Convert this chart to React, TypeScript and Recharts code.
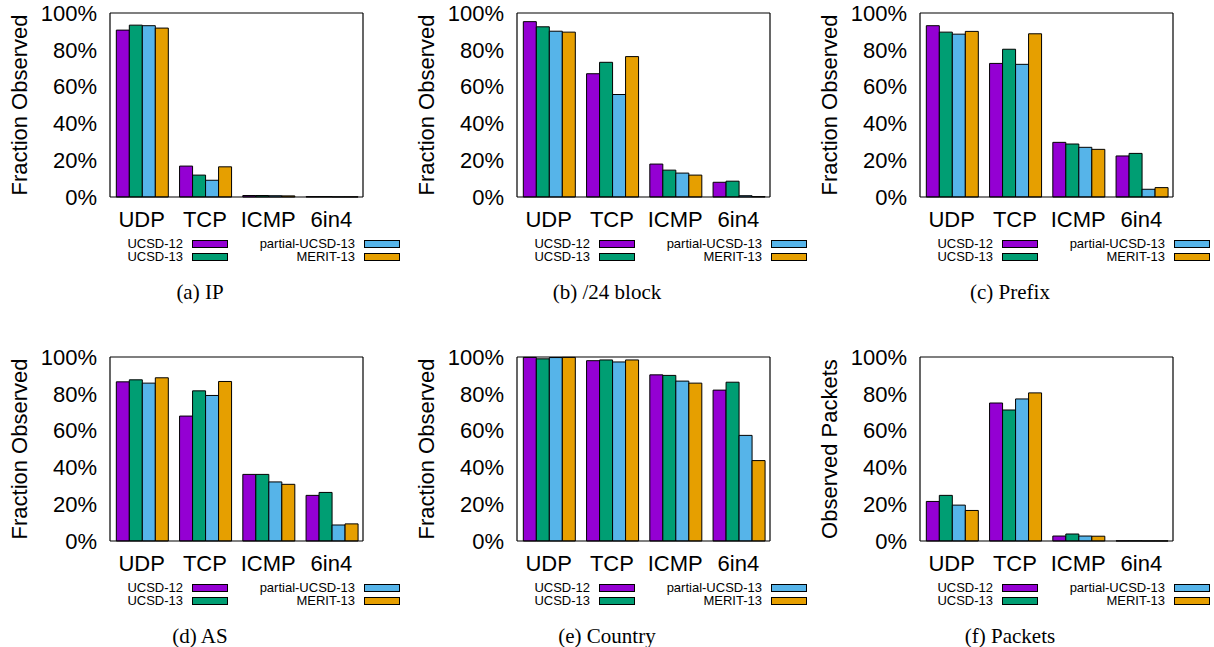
import { Bar, BarChart, Label, XAxis, YAxis } from "recharts";

const categories = ["UDP", "TCP", "ICMP", "6in4"];
const seriesNames = ["UCSD-12", "UCSD-13", "partial-UCSD-13", "MERIT-13"];
const seriesColors = ["#9400d3", "#009e73", "#56b4e9", "#e69f00"];
const yTicks = [0, 20, 40, 60, 80, 100];

// rows = series (UCSD-12, UCSD-13, partial-UCSD-13, MERIT-13), cols = categories
const ipValues = [
  [90.7, 16.8, 0.8, 0.2],
  [93.4, 11.9, 0.8, 0.2],
  [93.1, 9.1, 0.7, 0.1],
  [91.8, 16.4, 0.6, 0.1],
];
const blockValues = [
  [95.3, 67.0, 17.9, 8.0],
  [92.5, 73.2, 14.6, 8.6],
  [90.1, 55.7, 13.0, 0.7],
  [89.6, 76.3, 11.9, 0.2],
];
const prefixValues = [
  [93.1, 72.6, 29.7, 22.3],
  [89.6, 80.3, 28.8, 23.7],
  [88.5, 72.1, 27.0, 4.2],
  [90.0, 88.7, 25.9, 5.1],
];
const asValues = [
  [86.5, 67.9, 36.2, 24.8],
  [87.6, 81.6, 36.2, 26.4],
  [85.8, 79.1, 32.1, 8.7],
  [88.7, 86.7, 30.8, 9.3],
];
const countryValues = [
  [99.8, 98.0, 90.3, 82.0],
  [99.0, 98.4, 90.0, 86.3],
  [99.7, 97.3, 86.9, 57.4],
  [99.8, 98.4, 85.8, 43.7],
];
const packetValues = [
  [21.5, 75.0, 2.7, 0.1],
  [24.8, 71.2, 3.8, 0.1],
  [19.5, 77.2, 2.7, 0.05],
  [16.6, 80.5, 2.6, 0.05],
];

const SANS = "'Liberation Sans', Arial, Helvetica, sans-serif";
const SERIF = "'Liberation Serif', 'Times New Roman', serif";

interface PanelProps {
  left: number;
  top: number;
  values: number[][];
  yLabel: string;
  caption: string;
}

const LegendItem = ({ name, color, right, y }: { name: string; color: string; right: number; y: number }) => (
  <>
    <div
      style={{
        position: "absolute",
        left: right - 160,
        width: 151,
        top: y - 8,
        fontSize: 13,
        lineHeight: "16px",
        textAlign: "right",
        fontFamily: SANS,
      }}
    >
      {name}
    </div>
    <div
      style={{
        position: "absolute",
        left: right,
        top: y - 4,
        width: 34,
        height: 6,
        background: color,
        border: "1px solid #000",
      }}
    />
  </>
);

const Panel = ({ left, top, values, yLabel, caption }: PanelProps) => {
  const data = categories.map((cat, i) => ({
    cat,
    s0: values[0][i],
    s1: values[1][i],
    s2: values[2][i],
    s3: values[3][i],
  }));
  return (
    <div style={{ position: "absolute", left, top, width: 400, height: 310 }}>
      <BarChart
        width={400}
        height={237}
        data={data}
        margin={{ top: 13, right: 37, left: 0, bottom: 0 }}
        barCategoryGap="10%"
        barGap={0}
        style={{ fontFamily: SANS }}
      >
        <XAxis
          dataKey="cat"
          height={40}
          tickSize={0}
          tickMargin={14}
          axisLine={{ stroke: "#000", strokeWidth: 1.2 }}
          tick={{ fill: "#000", fontSize: 22 }}
          interval={0}
        />
        <XAxis
          xAxisId="top"
          dataKey="cat"
          orientation="top"
          height={1}
          mirror
          tick={false}
          tickSize={4}
          tickLine={{ stroke: "#000" }}
          axisLine={{ stroke: "#000", strokeWidth: 1.2 }}
        />
        <YAxis
          type="number"
          domain={[0, 100]}
          ticks={yTicks}
          width={110}
          tickSize={0}
          tickMargin={13}
          tickFormatter={(v: number) => `${v}%`}
          axisLine={{ stroke: "#000", strokeWidth: 1.2 }}
          tick={{ fill: "#000", fontSize: 22 }}
        >
          <Label
            content={({ viewBox }: any) => {
              const cy = viewBox.y + viewBox.height / 2;
              return (
                <text
                  x={19}
                  y={cy}
                  transform={`rotate(-90, 19, ${cy})`}
                  textAnchor="middle"
                  dominantBaseline="central"
                  fontSize={22}
                  fill="#000"
                  fontFamily={SANS}
                >
                  {yLabel}
                </text>
              );
            }}
          />
        </YAxis>
        <YAxis
          yAxisId="r"
          type="number"
          orientation="right"
          domain={[0, 100]}
          ticks={yTicks}
          width={1}
          mirror
          tick={false}
          tickSize={5}
          tickLine={{ stroke: "#000" }}
          axisLine={{ stroke: "#000", strokeWidth: 1.2 }}
        />
        {seriesNames.map((name, i) => (
          <Bar
            key={name}
            dataKey={`s${i}`}
            name={name}
            fill={seriesColors[i]}
            stroke="#000"
            strokeWidth={1}
            isAnimationActive={false}
          />
        ))}
      </BarChart>
      <LegendItem name={seriesNames[0]} color={seriesColors[0]} right={192} y={244} />
      <LegendItem name={seriesNames[1]} color={seriesColors[1]} right={192} y={257} />
      <LegendItem name={seriesNames[2]} color={seriesColors[2]} right={364} y={244} />
      <LegendItem name={seriesNames[3]} color={seriesColors[3]} right={364} y={257} />
      <div
        style={{
          position: "absolute",
          left: 50,
          width: 300,
          top: 279,
          textAlign: "center",
          fontFamily: SERIF,
          fontSize: 21,
          lineHeight: "26px",
        }}
      >
        {caption}
      </div>
    </div>
  );
};

export default function App() {
  return (
    <div style={{ position: "absolute", left: 0, top: 0, width: 1214, height: 647, background: "#fff" }}>
      <Panel left={0} top={0} values={ipValues} yLabel="Fraction Observed" caption="(a) IP" />
      <Panel left={407} top={0} values={blockValues} yLabel="Fraction Observed" caption="(b) /24 block" />
      <Panel left={810} top={0} values={prefixValues} yLabel="Fraction Observed" caption="(c) Prefix" />
      <Panel left={0} top={344} values={asValues} yLabel="Fraction Observed" caption="(d) AS" />
      <Panel left={407} top={344} values={countryValues} yLabel="Fraction Observed" caption="(e) Country" />
      <Panel left={810} top={344} values={packetValues} yLabel="Observed Packets" caption="(f) Packets" />
    </div>
  );
}
